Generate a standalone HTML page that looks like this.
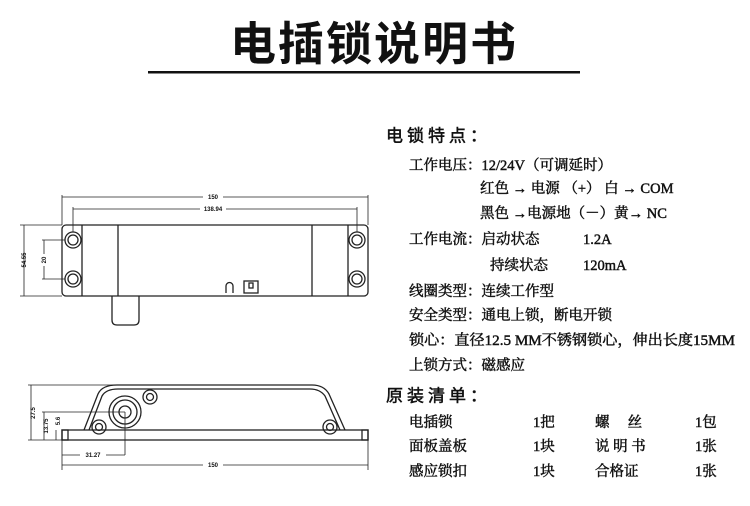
<!DOCTYPE html>
<html><head><meta charset="utf-8"><style>
html,body{margin:0;padding:0;background:#fff;}
svg{display:block}
.t{font-family:"Liberation Serif","Noto Serif CJK SC",serif;font-size:14.5px;fill:#111;stroke:#111;stroke-width:0.45;dominant-baseline:central}
.h{font-family:"Liberation Sans","Noto Sans CJK SC",sans-serif;font-size:17px;fill:#111;stroke:#111;stroke-width:0.5;dominant-baseline:central;letter-spacing:4px}
.d{font-family:"Liberation Sans",sans-serif;font-size:6px;font-weight:bold;fill:#111}
</style></head><body>
<svg width="750" height="506" viewBox="0 0 750 506" xmlns="http://www.w3.org/2000/svg">
<text x="374" y="44" text-anchor="middle" style="font-family:'Liberation Sans','Noto Sans CJK SC',sans-serif;font-size:46px;font-weight:bold;letter-spacing:2px;fill:#111;dominant-baseline:central">电插锁说明书</text>
<rect x="148" y="71" width="432" height="2.5" fill="#111"/>

<g stroke="#222" fill="none" stroke-width="1.3">
<rect x="62" y="225" width="306" height="71" rx="4"/>
<line x1="82" y1="225" x2="82" y2="296"/><line x1="118" y1="225" x2="118" y2="296"/>
<line x1="312" y1="225" x2="312" y2="296"/><line x1="348" y1="225" x2="348" y2="296"/>
<circle cx="73" cy="240" r="8"/><circle cx="73" cy="240" r="5"/>
<circle cx="73" cy="279" r="8"/><circle cx="73" cy="279" r="5"/>
<circle cx="357" cy="240" r="8"/><circle cx="357" cy="240" r="5"/>
<circle cx="357" cy="279" r="8"/><circle cx="357" cy="279" r="5"/>
<path d="M112 296 V320 Q112 325 117 325 H134 Q139 325 139 320 V296"/>
<path d="M226 293 V286 A3.5 3.5 0 0 1 233 286 V293"/>
<rect x="244" y="281" width="14" height="12"/><rect x="249" y="283" width="4" height="5"/>
</g>
<g stroke="#222" stroke-width="0.8" fill="none">
<line x1="62" y1="197" x2="368" y2="197"/><line x1="62" y1="195" x2="62" y2="225"/><line x1="368" y1="195" x2="368" y2="225"/>
<line x1="73" y1="209" x2="357" y2="209"/><line x1="73" y1="207" x2="73" y2="232"/><line x1="357" y1="207" x2="357" y2="232"/>
<line x1="20" y1="225" x2="62" y2="225"/><line x1="20" y1="296" x2="62" y2="296"/><line x1="24" y1="225" x2="24" y2="296"/>
<line x1="42" y1="240" x2="65" y2="240"/><line x1="42" y1="279" x2="65" y2="279"/><line x1="44" y1="240" x2="44" y2="279"/>
</g>
<rect x="203" y="193" width="20" height="8" fill="#fff"/><text class="d" x="213" y="199" text-anchor="middle">150</text>
<rect x="200" y="205" width="26" height="8" fill="#fff"/><text class="d" x="213" y="211" text-anchor="middle">138.94</text>
<text class="d" transform="translate(26,260) rotate(-90)" text-anchor="middle">54.55</text>
<rect x="40" y="254" width="8" height="12" fill="#fff"/><text class="d" transform="translate(46,260) rotate(-90)" text-anchor="middle">20</text>

<g stroke="#222" fill="none" stroke-width="1.3">
<rect x="62" y="430" width="306" height="10"/>
<rect x="62" y="430" width="6" height="10"/><rect x="362" y="430" width="6" height="10"/>
<path d="M84 430 L98 394 Q102 385 117 385 H312 Q324 385 329 394 L345 430"/>
<path d="M89 430 L102 396 Q106 389 118 389 H310 Q320 389 325 396 L340 430"/>
<circle cx="125" cy="412" r="16"/><circle cx="125" cy="412" r="12"/><circle cx="125" cy="412" r="6"/>
<circle cx="150" cy="397" r="7"/><circle cx="150" cy="397" r="3.5"/>
<circle cx="99" cy="427" r="7"/><circle cx="99" cy="427" r="3.5"/>
<circle cx="330" cy="427" r="7"/><circle cx="330" cy="427" r="3.5"/>
</g>
<g stroke="#222" stroke-width="0.8" fill="none">
<line x1="28" y1="385" x2="115" y2="385"/><line x1="31" y1="385" x2="31" y2="440"/><line x1="28" y1="440" x2="62" y2="440"/>
<line x1="42" y1="412" x2="125" y2="412"/><line x1="44" y1="412" x2="44" y2="440"/>
<line x1="56" y1="430" x2="56" y2="440"/>
<line x1="125" y1="412" x2="125" y2="455"/><line x1="62" y1="440" x2="62" y2="470"/><line x1="368" y1="440" x2="368" y2="470"/>
<line x1="62" y1="455" x2="125" y2="455"/><line x1="62" y1="465" x2="368" y2="465"/>
</g>
<rect x="80" y="451" width="26" height="8" fill="#fff"/><text class="d" x="93" y="457" text-anchor="middle">31.27</text>
<rect x="203" y="461" width="20" height="8" fill="#fff"/><text class="d" x="213" y="467" text-anchor="middle">150</text>
<text class="d" transform="translate(35,413) rotate(-90)" text-anchor="middle">27.5</text>
<text class="d" transform="translate(48,426) rotate(-90)" text-anchor="middle">13.75</text>
<text class="d" transform="translate(60,421) rotate(-90)" text-anchor="middle">5.6</text>

<text class="h" x="386" y="136">电锁特点：</text>
<text class="t" x="409" y="166">工作电压：12/24V（可调延时）</text>
<text class="t" x="480" y="189">红色 → 电源 （+） 白 → COM</text>
<text class="t" x="480" y="214">黑色 →电源地（－）黄→ NC</text>
<text class="t" x="409" y="240">工作电流：启动状态</text><text class="t" x="583" y="240">1.2A</text>
<text class="t" x="490" y="266">持续状态</text><text class="t" x="583" y="266">120mA</text>
<text class="t" x="409" y="292">线圈类型：连续工作型</text>
<text class="t" x="409" y="316">安全类型：通电上锁，断电开锁</text>
<text class="t" x="409" y="341" textLength="326" lengthAdjust="spacingAndGlyphs">锁心：直径12.5 MM不锈钢锁心，伸出长度15MM</text>
<text class="t" x="409" y="366">上锁方式：磁感应</text>
<text class="h" x="386" y="396">原装清单：</text>
<text class="t" x="409" y="423">电插锁</text><text class="t" x="533" y="423">1把</text><text class="t" x="595" y="423">螺　 丝</text><text class="t" x="695" y="423">1包</text>
<text class="t" x="409" y="447">面板盖板</text><text class="t" x="533" y="447">1块</text><text class="t" x="595" y="447">说 明 书</text><text class="t" x="695" y="447">1张</text>
<text class="t" x="409" y="472">感应锁扣</text><text class="t" x="533" y="472">1块</text><text class="t" x="595" y="472">合格证</text><text class="t" x="695" y="472">1张</text>
</svg>
</body></html>
